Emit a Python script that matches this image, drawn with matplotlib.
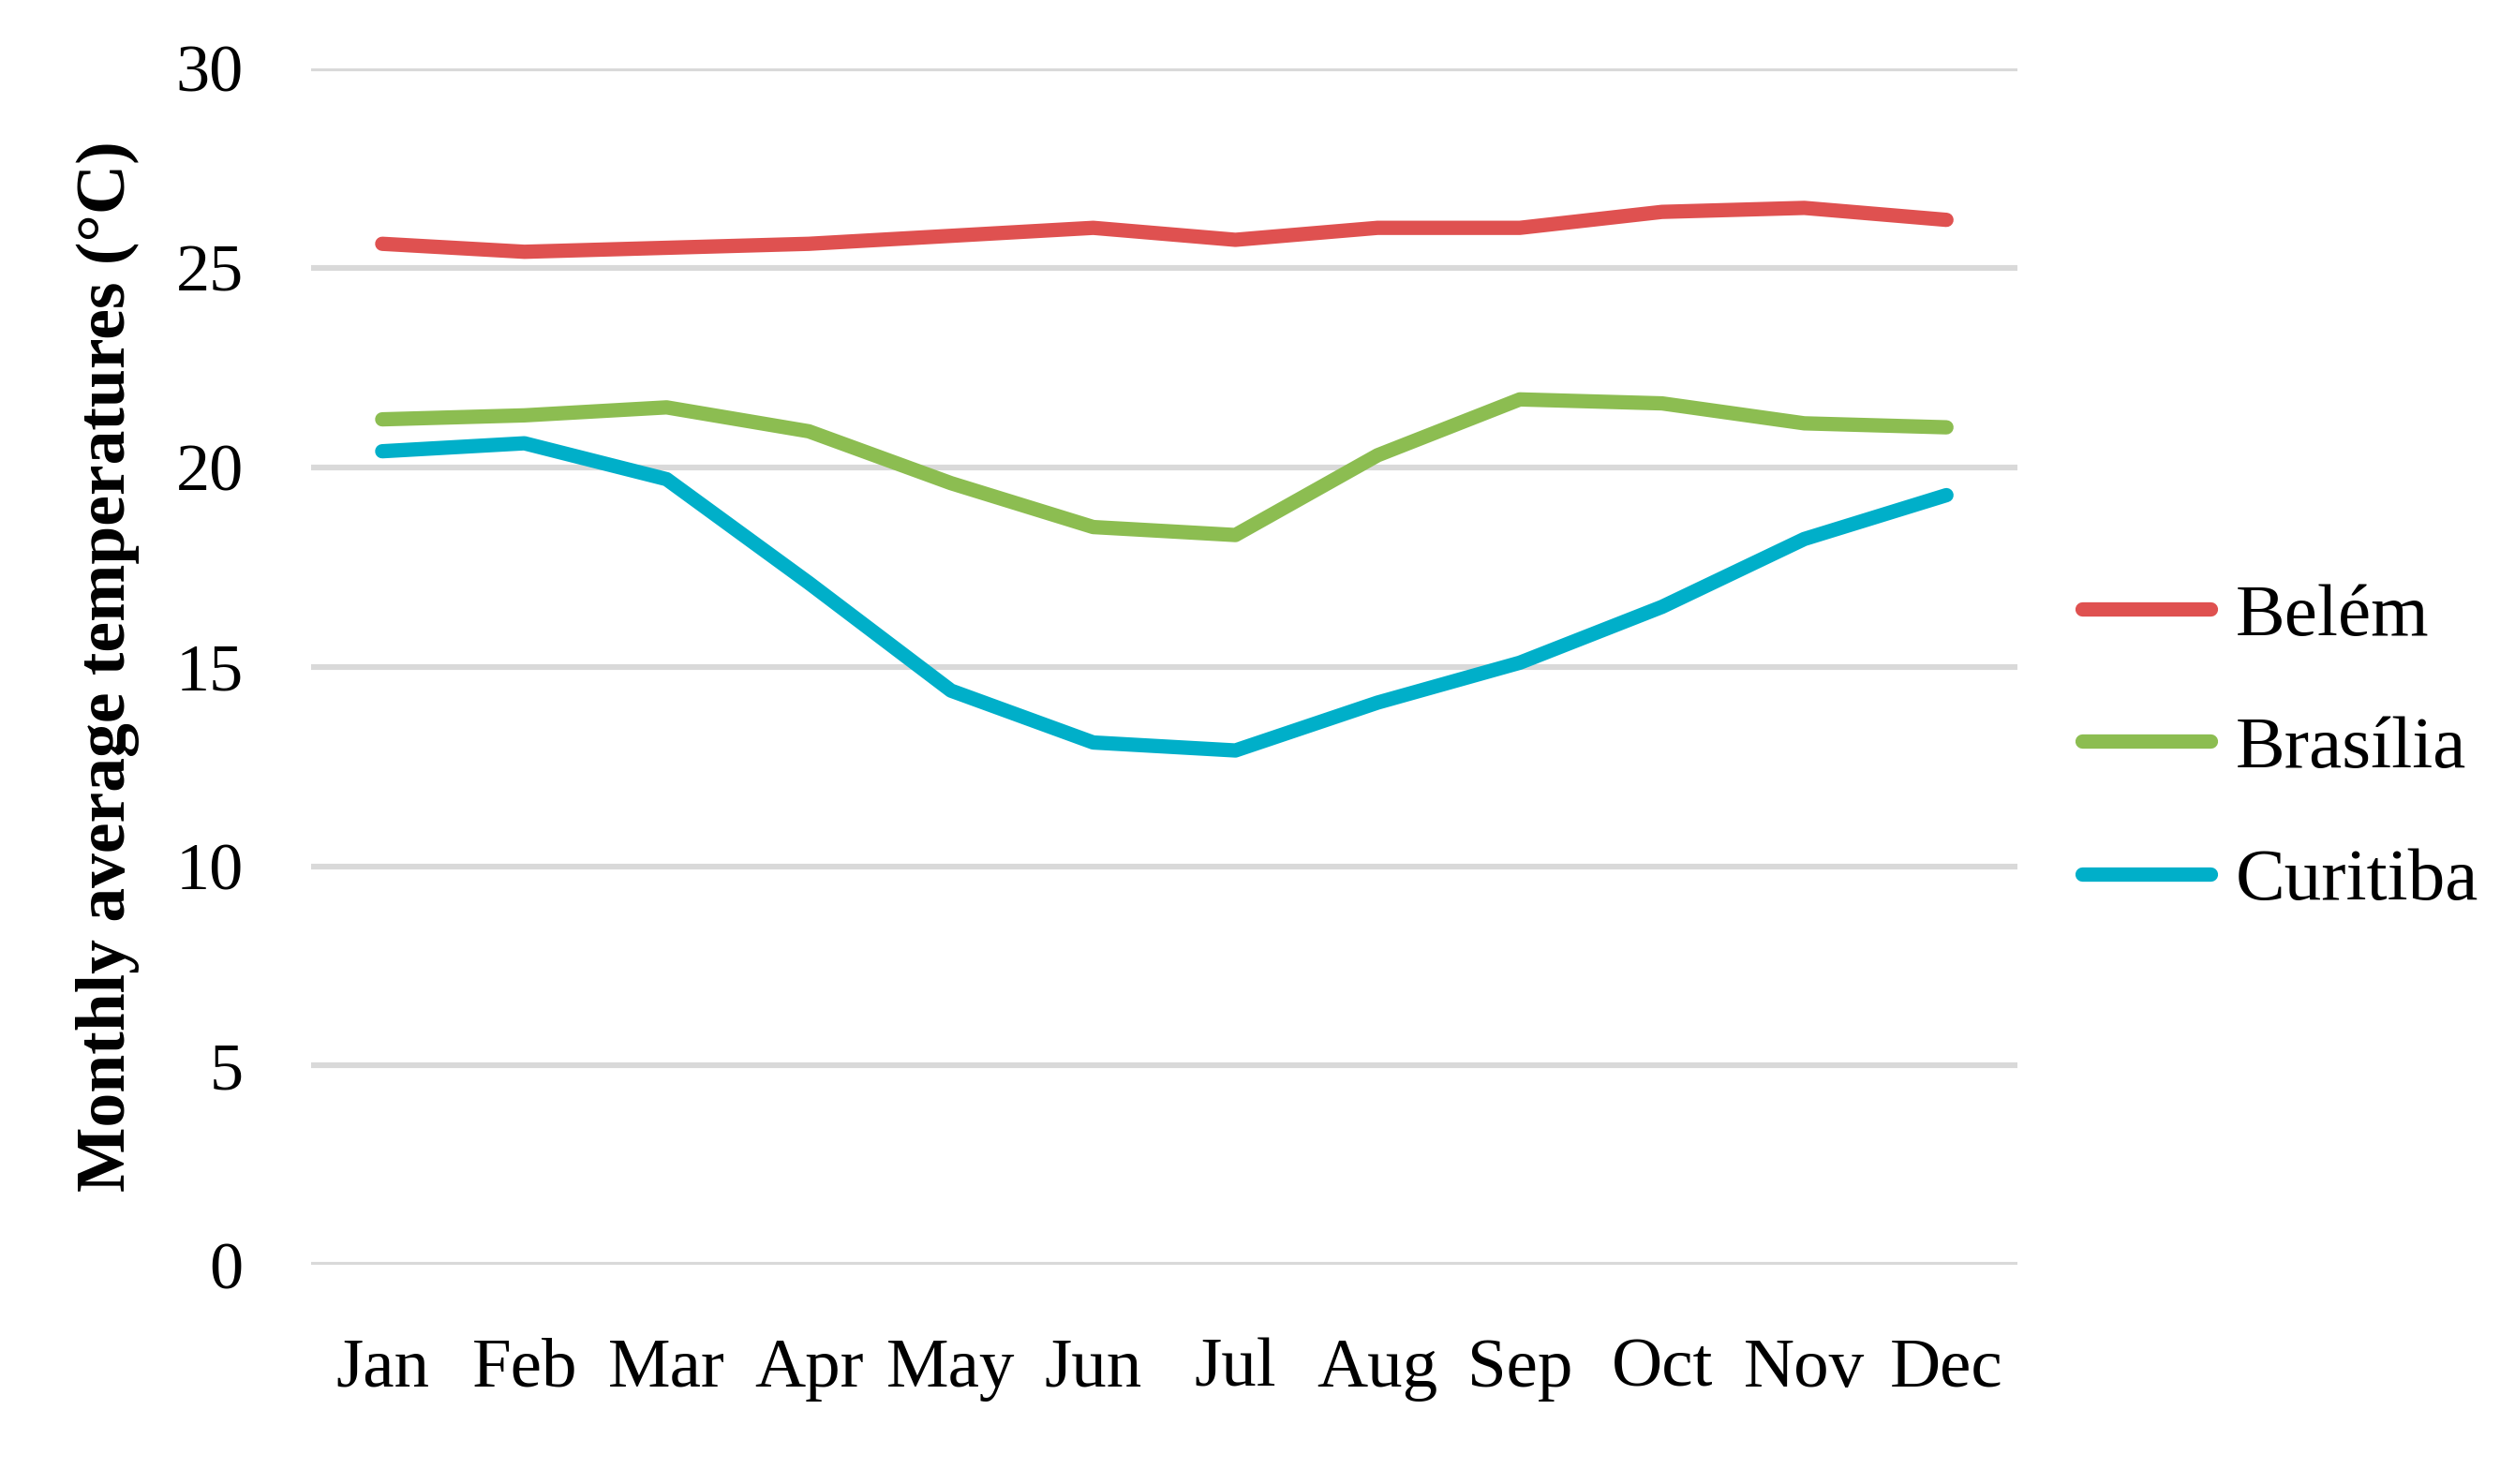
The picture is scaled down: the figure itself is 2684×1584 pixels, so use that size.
import matplotlib
matplotlib.use("Agg")
import matplotlib.pyplot as plt

months = ["Jan", "Feb", "Mar", "Apr", "May", "Jun",
          "Jul", "Aug", "Sep", "Oct", "Nov", "Dec"]
belem = [25.6, 25.4, 25.5, 25.6, 25.8, 26.0, 25.7, 26.0, 26.0, 26.4, 26.5, 26.2]
brasilia = [21.2, 21.3, 21.5, 20.9, 19.6, 18.5, 18.3, 20.3, 21.7, 21.6, 21.1, 21.0]
curitiba = [20.4, 20.6, 19.7, 17.1, 14.4, 13.1, 12.9, 14.1, 15.1, 16.5, 18.2, 19.3]
yticks = [0, 5, 10, 15, 20, 25, 30]

plt.rcParams["font.family"] = ["Liberation Serif", "DejaVu Serif"]

fig = plt.figure(figsize=(13.42, 7.92), dpi=200)
ax = fig.add_axes([0.1237, 0.1475, 0.6785, 0.8065])

x = range(len(months))
series = [("Belém", belem, "#df5150"),
          ("Brasília", brasilia, "#8cbd51"),
          ("Curitiba", curitiba, "#00afc9")]
for name, vals, col in series:
    ax.plot(x, vals, color=col, lw=5.5, label=name,
            solid_capstyle="round", solid_joinstyle="round", zorder=3)

ax.set_xlim(-0.5, 11.5)
ax.set_ylim(0, 30)
ax.set_yticks(yticks)
ax.set_xticks(list(x))
ax.set_xticklabels(months)
ax.grid(axis="y", color="#d9d9d9", lw=2.2, zorder=0)
ax.set_axisbelow(True)
for s in ax.spines.values():
    s.set_visible(False)
ax.tick_params(axis="both", length=0, labelsize=26)
ax.tick_params(axis="x", labelsize=27, pad=28)
ax.tick_params(axis="y", pad=26)

ax.set_ylabel("Monthly average temperatures (°C)", fontsize=26.5,
              fontweight="bold", labelpad=14)

fig.legend(loc="center left", bbox_to_anchor=(0.828, 0.495),
           frameon=False, fontsize=28.5, handlelength=1.73,
           handletextpad=0.33, labelspacing=0.87,
           borderpad=0, borderaxespad=0)

fig.savefig("out.png", dpi=200)
